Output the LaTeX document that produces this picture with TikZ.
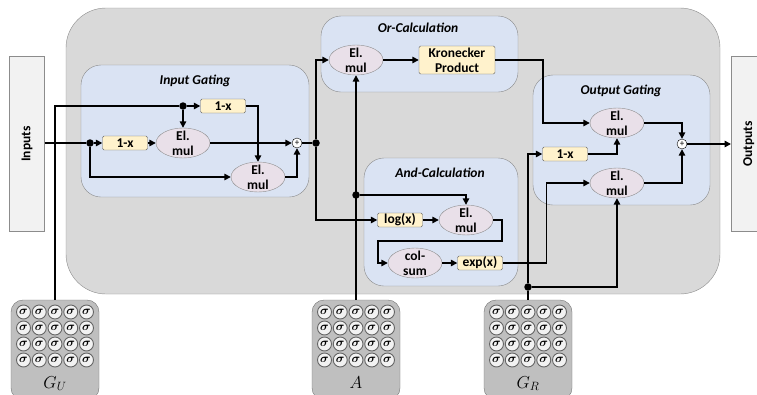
\documentclass[tikz,border=0pt]{standalone}
\usepackage{fontspec}
\setmainfont{Carlito}
\usepackage{amsmath}
\usetikzlibrary{shapes.geometric,arrows.meta}
\definecolor{bggray}{HTML}{D9D9D9}
\definecolor{edgegray}{HTML}{8C8C8C}
\definecolor{panelblue}{HTML}{DAE3F3}
\definecolor{elpink}{HTML}{E9E0E9}
\definecolor{boxyellow}{HTML}{FFF2CC}
\definecolor{iogray}{HTML}{F2F2F2}
\definecolor{sgray}{HTML}{BFBFBF}
\begin{document}
\begin{tikzpicture}[x=1pt,y=-1pt,>={Triangle[length=6.5pt,width=6.5pt]},
  txt/.style={font=\bfseries\fontsize{13.5}{15}\selectfont,align=center},
  ttl/.style={font=\bfseries\itshape\fontsize{13.5}{15}\selectfont},
  panel/.style={draw=edgegray,fill=panelblue,rounded corners=20pt},
  elmul/.style={txt,ellipse,draw=edgegray,fill=elpink,inner xsep=0pt,inner ysep=-2pt,minimum width=54pt,minimum height=30pt},
  opbox/.style={txt,draw=black!60,fill=boxyellow,rounded corners=1.5pt,inner sep=0pt,minimum width=45pt,minimum height=14pt},
  plus/.style={circle,draw,fill=white,inner sep=0pt,minimum size=10pt,font=\fontsize{9}{9}\selectfont},
  jdot/.style={circle,fill,inner sep=0pt,minimum size=7.5pt},
  io/.style={txt,draw=edgegray,fill=iogray,minimum width=35pt,minimum height=175pt},
  sgbox/.style={draw=black!55,fill=sgray,rounded corners=12pt,minimum width=88pt,minimum height=100pt},
  sg/.style={circle,draw=black!60,line width=0.9pt,fill=iogray,inner sep=0pt,minimum size=14pt,font=\fontsize{12}{12}\selectfont},
  conn/.style={line width=1.5pt}]
\useasboundingbox (0,0) rectangle (757,394);
\clip (0,0) rectangle (757,394);
% background and panels
\draw[draw=edgegray,fill=bggray,rounded corners=40pt] (66,8) rectangle (720,294);
\draw[panel] (81,65) rectangle (309,197);
\draw[panel] (321,16) rectangle (518,92);
\draw[panel] (364,158) rectangle (518,286);
\draw[panel] (533,75) rectangle (710,205);
\node[ttl] (igt) at (195,81) {Input Gating};
\node[ttl] (oct) at (418,28) {Or-Calculation};
\node[ttl] (act) at (440,173) {And-Calculation};
\node[ttl] (ogt) at (621,91) {Output Gating};
% in / out
\node[io] (inputs) at (27,144) {\rotatebox{90}{Inputs}};
\node[io,anchor=west] (outputs) at (731,144) {\rotatebox{90}{Outputs}};
% sigma blocks
\foreach \bx/\nm/\lab in {55/gu/G_U,356/ga/A,528/gr/G_R}{
  \node[sgbox] (\nm) at (\bx,350) {};
  \node[anchor=base,font=\fontsize{17}{17}\selectfont] (\nm-lab) at (\bx,388) {$\lab$};
  \foreach \i in {1,...,5}\foreach \j in {1,...,4}
    \node[sg] (\nm-\i-\j) at ({\bx+15.75*(\i-3)},{296+16*\j}) {$\boldsymbol{\sigma}$};
}
% input gating
\node[jdot] (d1) at (90,143) {};
\node[jdot] (d2) at (183,106) {};
\node[opbox] (inv) at (125,143) {1-x};
\node[opbox] (inv2) at (223,106) {1-x};
\node[elmul] (igm1) at (183,143) {El.\\mul};
\node[elmul] (igm2) at (258,177) {El.\\mul};
\node[plus] (igp) at (297,143) {+};
\node[jdot] (d3) at (316,143) {};
% or-calculation
\node[elmul] (orm) at (356,60) {El.\\mul};
\node[opbox,minimum width=76pt,minimum height=28pt] (kron) at (457,60) {Kronecker\\Product};
% and-calculation
\node[jdot] (d4) at (356,195) {};
\node[opbox] (logx) at (400,220) {log(x)};
\node[elmul] (andm) at (466,220) {El.\\mul};
\node[elmul] (colsum) at (415,263) {col-\\sum};
\node[opbox] (expx) at (480,263) {exp(x)};
% output gating
\node[jdot] (d5) at (528,287) {};
\node[elmul] (ogm1) at (617,123) {El.\\mul};
\node[opbox] (onv) at (565,154) {1-x};
\node[elmul] (ogm2) at (617,183) {El.\\mul};
\node[plus] (ogp) at (682,144) {+};
% connections
\draw[conn] (inputs.east |- d1) -- (d1);
\draw[conn,->] (d1) -- (inv);
\draw[conn,->] (inv) -- (igm1);
\draw[conn,->] (d1) |- (igm2);
\draw[conn] (gu.north) |- (d2);
\draw[conn,->] (d2) -- (inv2);
\draw[conn,->] (d2) -- (igm1);
\draw[conn,->] (inv2) -| (igm2);
\draw[conn,->] (igm1) -- (igp);
\draw[conn,->] (igm2) -| (igp);
\draw[conn] (igp) -- (d3);
\draw[conn,->] (d3) |- (orm);
\draw[conn,->] (d3) |- (logx);
\draw[conn,->] (ga.north) -- (orm);
\draw[conn,->] (d4) -| (andm);
\draw[conn,->] (orm) -- (kron);
\draw[conn,->] (kron.east) -- ++(48,0) |- (ogm1);
\draw[conn,->] (logx) -- (andm);
\draw[conn,->] (andm.east) -- ++(9,0) -- ++(0,21) -| ([xshift=-10pt]colsum.west) -- (colsum);
\draw[conn,->] (colsum) -- (expx);
\draw[conn,->] (expx.east) -- ++(44,0) |- (ogm2);
\draw[conn] (gr.north) -- (d5);
\draw[conn,->] (d5) |- (onv);
\draw[conn,->] (d5) -| (ogm2);
\draw[conn,->] (onv) -| (ogm1);
\draw[conn,->] (ogm1) -| (ogp);
\draw[conn,->] (ogm2) -| (ogp);
\draw[conn,->] (ogp) -- (outputs.west |- ogp);
\end{tikzpicture}
\end{document}
